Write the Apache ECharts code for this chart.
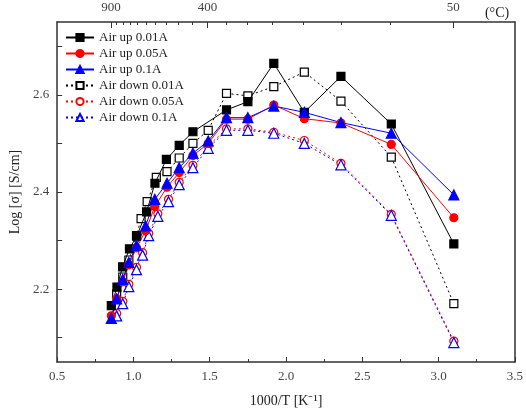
<!DOCTYPE html>
<html>
<head>
<meta charset="UTF-8">
<title>Log sigma vs 1000/T</title>
<script src="https://cdn.jsdelivr.net/npm/echarts@6/dist/echarts.min.js"></script>
<style>
  html, body { margin: 0; padding: 0; background: #fff; }
  #main { width: 526px; height: 417px; }
</style>
</head>
<body>
<div id="main"></div>
<script>
// x = 1000/T, y = Log sigma
var upX = [0.855, 0.892, 0.929, 0.974, 1.021, 1.086, 1.141, 1.216, 1.30, 1.39, 1.61, 1.75, 1.92, 2.12, 2.36, 2.69, 3.10];
var up001 = [2.166, 2.204, 2.246, 2.283, 2.309, 2.359, 2.418, 2.467, 2.496, 2.524, 2.569, 2.586, 2.665, 2.564, 2.638, 2.540, 2.293];

var downSqX = [0.89, 0.93, 0.97, 1.02, 1.05, 1.09, 1.15, 1.22, 1.30, 1.39, 1.49, 1.61, 1.75, 1.92, 2.12, 2.36, 2.69, 3.10];
var down001 = [2.19, 2.225, 2.26, 2.31, 2.345, 2.38, 2.43, 2.442, 2.47, 2.50, 2.527, 2.603, 2.598, 2.617, 2.647, 2.587, 2.472, 2.17];

var midX = [0.855, 0.89, 0.93, 0.97, 1.02, 1.08, 1.14, 1.22, 1.30, 1.39, 1.49, 1.61, 1.75, 1.92, 2.12, 2.36, 2.69, 3.10];
var up005 = [2.145, 2.18, 2.215, 2.25, 2.285, 2.32, 2.37, 2.41, 2.44, 2.475, 2.50, 2.550, 2.550, 2.579, 2.551, 2.542, 2.498, 2.347];
var up01 = [2.14, 2.18, 2.22, 2.255, 2.29, 2.33, 2.385, 2.418, 2.45, 2.48, 2.505, 2.553, 2.553, 2.577, 2.564, 2.543, 2.521, 2.394];

var downX = [0.89, 0.93, 0.97, 1.02, 1.06, 1.10, 1.16, 1.23, 1.30, 1.39, 1.49, 1.61, 1.75, 1.92, 2.12, 2.36, 2.69, 3.10];
var down005 = [2.15, 2.175, 2.21, 2.245, 2.275, 2.315, 2.355, 2.385, 2.42, 2.455, 2.495, 2.530, 2.530, 2.523, 2.506, 2.459, 2.354, 2.093];
var down01 = [2.145, 2.17, 2.205, 2.24, 2.27, 2.31, 2.35, 2.38, 2.415, 2.45, 2.49, 2.527, 2.527, 2.521, 2.500, 2.456, 2.352, 2.090];

var tempTicks = [900, 850, 800, 750, 700, 650, 600, 550, 500, 450, 400, 350, 300, 250, 200, 150, 100, 50];
var tempLabels = [900, 400, 50];
var yTicks = [2.1, 2.2, 2.3, 2.4, 2.5, 2.6, 2.7];
var yLabels = [2.2, 2.4, 2.6];

function toInvT(c) { return 1000 / (c + 273); }
function pairs(xs, ys) { return xs.map(function (x, i) { return [x, ys[i]]; }); }

var font = 'Liberation Serif';
var chart = echarts.init(document.getElementById('main'));

function mk(name, xs, ys, color, symbol, filled, dashed) {
  return {
    name: name, type: 'line', data: pairs(xs, ys),
    symbol: symbol, symbolSize: symbol === 'triangle' ? 10 : 8,
    itemStyle: { color: filled ? color : '#fff', borderColor: color, borderWidth: 1.2 },
    lineStyle: { color: color, width: 1, type: dashed ? [2, 3] : 'solid' },
    emphasis: { disabled: true }, z: filled ? 3 : 2
  };
}

chart.setOption({
  animation: false,
  textStyle: { fontFamily: font },
  grid: { left: 53, right: 11, top: 22, bottom: 55 },
  legend: {
    left: 60, top: 26, orient: 'vertical', itemGap: 3, itemWidth: 28, itemHeight: 9,
    textStyle: { fontFamily: font, fontSize: 13, color: '#222' }
  },
  xAxis: [{
    type: 'value', min: 0.5, max: 3.5, interval: 0.5,
    name: '1000/T [K\u207B\u00B9]', nameLocation: 'middle', nameGap: 32,
    nameTextStyle: { fontFamily: font, fontSize: 14, color: '#222' },
    axisLine: { lineStyle: { color: '#333', width: 1.5 } },
    axisTick: { inside: true, length: 5, lineStyle: { color: '#333' } },
    minorTick: { show: true, splitNumber: 2, length: 3, lineStyle: { color: '#333' } },
    axisLabel: { fontFamily: font, fontSize: 13, color: '#444', formatter: function (v) { return v.toFixed(1); } },
    splitLine: { show: false }
  }, {
    type: 'value', position: 'top', min: 0.5, max: 3.5,
    name: '(\u00B0C)', nameLocation: 'end', nameGap: -30,
    nameTextStyle: { fontFamily: font, fontSize: 14, color: '#222', verticalAlign: 'bottom', padding: [0, 0, 2, 0] },
    axisLine: { lineStyle: { color: '#333', width: 1.5 } },
    axisTick: { inside: true, length: 6, customValues: tempLabels.map(toInvT), lineStyle: { color: '#333' } },
    axisLabel: { fontFamily: font, fontSize: 13, color: '#444', customValues: tempLabels.map(toInvT),
      formatter: function (v) { return String(Math.round(1000 / v - 273)); } },
    splitLine: { show: false }
  }, {
    type: 'value', position: 'top', min: 0.5, max: 3.5,
    axisLine: { show: false },
    axisTick: { inside: true, length: 3, customValues: tempTicks.map(toInvT), lineStyle: { color: '#333' } },
    axisLabel: { show: false },
    splitLine: { show: false }
  }],
  yAxis: [{
    type: 'value', min: 2.05, max: 2.75,
    name: 'Log [\u03C3] [S/cm]', nameLocation: 'middle', nameGap: 32, nameRotate: 90,
    nameTextStyle: { fontFamily: font, fontSize: 14, color: '#222' },
    axisLine: { show: true, lineStyle: { color: '#333', width: 1.5 } },
    axisTick: { show: true, inside: true, length: 5, customValues: yTicks, lineStyle: { color: '#333' } },
    axisLabel: { fontFamily: font, fontSize: 13, color: '#444', customValues: yLabels,
      formatter: function (v) { return v.toFixed(1); } },
    splitLine: { show: false }
  }, {
    type: 'value', position: 'right', min: 2.05, max: 2.75,
    axisLine: { show: true, lineStyle: { color: '#333', width: 1.5 } },
    axisTick: { show: false }, axisLabel: { show: false }, splitLine: { show: false }
  }],
  series: [
    mk('Air up 0.01A', upX, up001, '#000', 'rect', true, false),
    mk('Air up 0.05A', midX, up005, '#f00', 'circle', true, false),
    mk('Air up 0.1A', midX, up01, '#00f', 'triangle', true, false),
    mk('Air down 0.01A', downSqX, down001, '#000', 'rect', false, true),
    mk('Air down 0.05A', downX, down005, '#f00', 'circle', false, true),
    mk('Air down 0.1A', downX, down01, '#00f', 'triangle', false, true)
  ]
});
</script>
</body>
</html>
